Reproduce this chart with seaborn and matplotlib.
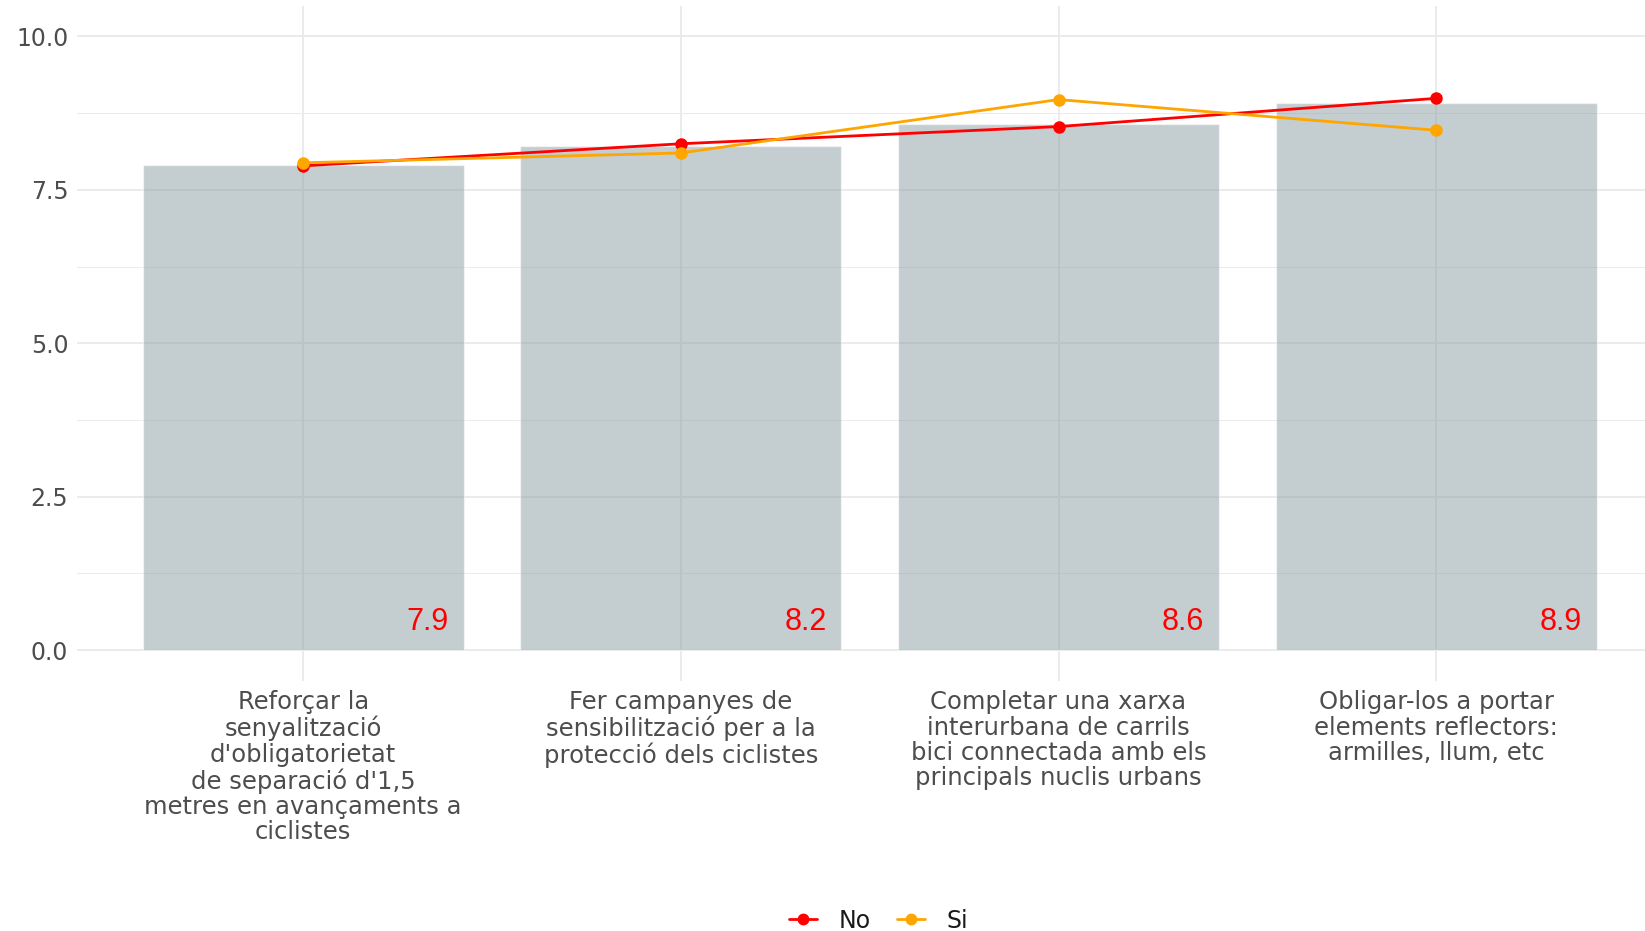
import matplotlib
matplotlib.use("Agg")
import matplotlib.pyplot as plt
from matplotlib.lines import Line2D
import seaborn as sns
import pandas as pd

# Proposed measures (x axis categories)
categories = [
    "Reforçar la\nsenyalització\nd'obligatorietat\nde separació d'1,5\nmetres en avançaments a\nciclistes",
    "Fer campanyes de\nsensibilització per a la\nprotecció dels ciclistes",
    "Completar una xarxa\ninterurbana de carrils\nbici connectada amb els\nprincipals nuclis urbans",
    "Obligar-los a portar\nelements reflectors:\narmilles, llum, etc",
]
# Overall mean score per measure
overall = [7.91, 8.21, 8.58, 8.92]
# Mean score by group
score_no = [7.89, 8.25, 8.53, 8.99]
score_si = [7.94, 8.10, 8.97, 8.47]
groups = ["No", "Si"]
y_ticks = [0.0, 2.5, 5.0, 7.5, 10.0]

sns.set_theme(style="whitegrid")
plt.rcParams["font.family"] = ["DejaVu Sans"]

bars = pd.DataFrame({"measure": categories, "score": overall})
lines = pd.DataFrame({
    "measure": categories * 2,
    "score": score_no + score_si,
    "group": [groups[0]] * len(categories) + [groups[1]] * len(categories),
})
palette = {"No": "#FF0000", "Si": "#FFA500"}

fig = plt.figure(figsize=(16.45, 9.31), dpi=100)
ax = fig.add_axes([0.0466, 0.2688, 0.9534, 0.7251])

sns.barplot(data=bars, x="measure", y="score", color="#8B9DA3", alpha=0.5,
            width=0.85, saturation=1, ax=ax, zorder=2)
sns.pointplot(data=lines, x="measure", y="score", hue="group", hue_order=groups,
              palette=palette, errorbar=None, markers="o", linestyles="-",
              markersize=7.5, linewidth=2.0, ax=ax, zorder=3)
if ax.get_legend() is not None:
    ax.get_legend().remove()

for i, v in enumerate(overall):
    ax.text(i + 0.33, 0.45, f"{v:.1f}", color="#FF0000", fontsize=22,
            family="Liberation Sans", ha="center", va="center", zorder=4)

ax.set_xlim(-0.6, 3.553)
ax.set_ylim(-0.5, 10.5)
ax.set_xticks(range(len(categories)))
ax.set_xticklabels(categories, linespacing=1.07, fontsize=17.5, color="#4D4D4D")
ax.set_yticks(y_ticks)
ax.set_yticklabels([f"{t:.1f}" for t in y_ticks], fontsize=17, color="#4D4D4D")
ax.set_yticks([1.25, 3.75, 6.25, 8.75], minor=True)
ax.set_xlabel("")
ax.set_ylabel("")

ax.set_facecolor("white")
for s in ax.spines.values():
    s.set_visible(False)
ax.grid(True, which="major", color="#EBEBEB", linewidth=1.4, zorder=0)
ax.grid(True, which="minor", axis="y", color="#EBEBEB", linewidth=0.7, zorder=0)
ax.set_axisbelow(True)
ax.tick_params(axis="both", which="both", length=0, colors="#4D4D4D")
ax.tick_params(axis="x", pad=7)
ax.tick_params(axis="y", pad=6)

handles = [Line2D([0], [0], color=palette[g], marker="o", markersize=7.5, linewidth=2.0)
           for g in groups]
fig.legend(handles, groups, loc="center", bbox_to_anchor=(0.534, 0.011), ncol=2,
           frameon=False, fontsize=17, handlelength=1.2, handletextpad=0.9,
           columnspacing=1.1, borderpad=0, labelcolor="#1A1A1A")

fig.savefig("out.png", dpi=100, facecolor="white")
